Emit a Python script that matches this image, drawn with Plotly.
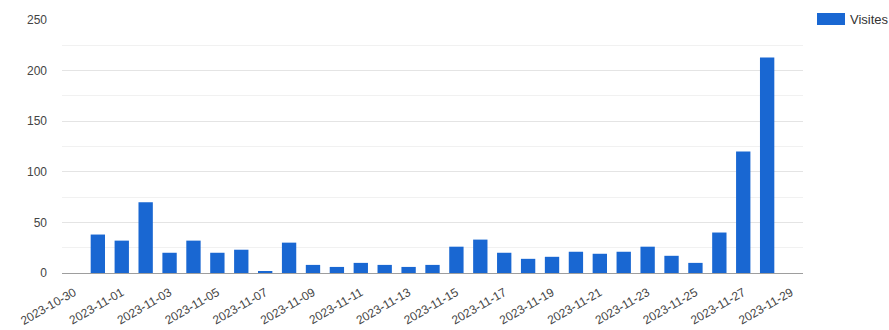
import plotly.graph_objects as go

dates = ["2023-10-31", "2023-11-01", "2023-11-02", "2023-11-03", "2023-11-04",
         "2023-11-05", "2023-11-06", "2023-11-07", "2023-11-08", "2023-11-09",
         "2023-11-10", "2023-11-11", "2023-11-12", "2023-11-13", "2023-11-14",
         "2023-11-15", "2023-11-16", "2023-11-17", "2023-11-18", "2023-11-19",
         "2023-11-20", "2023-11-21", "2023-11-22", "2023-11-23", "2023-11-24",
         "2023-11-25", "2023-11-26", "2023-11-27", "2023-11-28"]
visites = [38, 32, 70, 20, 32, 20, 23, 2, 30, 8,
           6, 10, 8, 6, 8, 26, 33, 20, 14, 16,
           21, 19, 21, 26, 17, 10, 40, 120, 213]
series_name = "Visites"
y_ticks = [0, 50, 100, 150, 200, 250]

BLUE = "#1967d2"
FONT = "Liberation Sans, Arial, sans-serif"

fig = go.Figure()
fig.add_trace(go.Bar(x=dates, y=visites, name=series_name,
                     marker=dict(color=BLUE, line=dict(width=0)),
                     showlegend=False))

fig.update_layout(
    width=889, height=330,
    margin=dict(l=62, r=86, t=20, b=57),
    paper_bgcolor="white", plot_bgcolor="white",
    bargap=0.4,
    font=dict(family=FONT, size=12, color="#444"),
    xaxis=dict(
        type="date",
        range=["2023-10-29 12:00", "2023-11-29 12:00"],
        tick0="2023-10-30", dtick=2 * 86400000,
        tickformat="%Y-%m-%d", tickangle=-30,
        showgrid=False, showline=True, linecolor="#9e9e9e", linewidth=1,
        ticks="outside", ticklen=7, tickcolor="rgba(0,0,0,0)",
        tickfont=dict(size=12, color="#444"),
        automargin=False,
        fixedrange=True,
    ),
    yaxis=dict(
        range=[0, 250], tickvals=y_ticks,
        showgrid=True, gridcolor="#e4e4e4", gridwidth=1,
        minor=dict(dtick=25, showgrid=True, gridcolor="#f1f1f1"),
        zeroline=False, showline=False, ticks="",
        ticklabelstandoff=14,
        automargin=False,
        tickfont=dict(size=12, color="#444"),
    ),
)

# legend drawn as swatch + label
fig.add_shape(type="rect", xref="paper", yref="paper",
              x0=(817 - 62) / 741, x1=(845 - 62) / 741,
              y0=(273 - 25) / 253, y1=(273 - 13) / 253,
              fillcolor=BLUE, line=dict(width=0))
fig.add_annotation(text=series_name, xref="paper", yref="paper",
                   x=(848 - 62) / 741, y=(273 - 19) / 253,
                   xanchor="left", yanchor="middle", showarrow=False,
                   font=dict(family=FONT, size=13, color="#333"))

fig.write_html("out.html")
